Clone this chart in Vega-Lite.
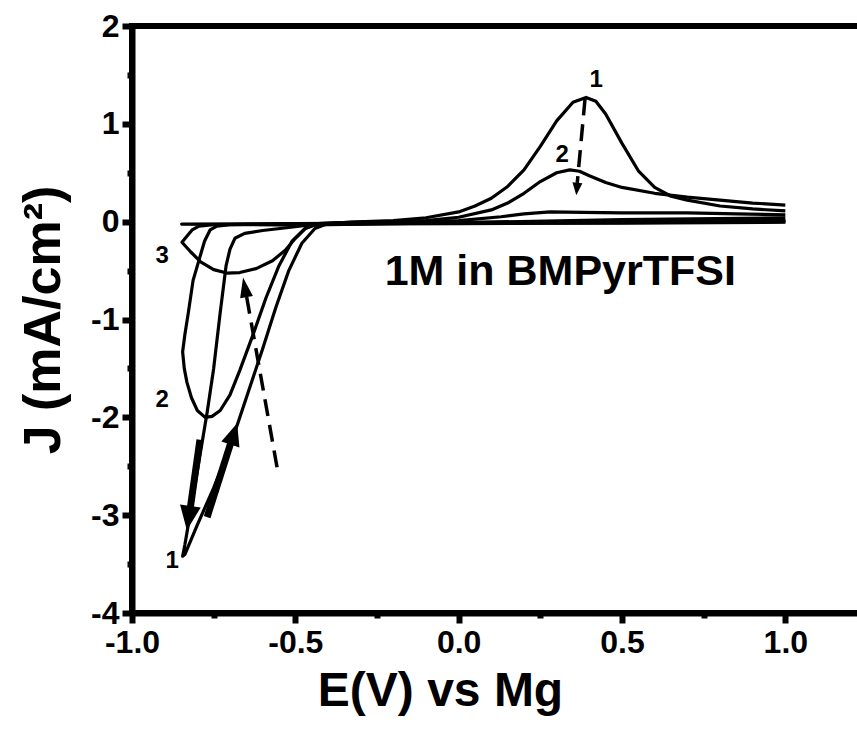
{
  "$schema": "https://vega.github.io/schema/vega-lite/v6.json",
  "autosize": "none",
  "width": 735,
  "height": 587,
  "padding": {"left": 132, "top": 26, "right": -10, "bottom": 124},
  "background": "white",
  "config": {
    "font": "Liberation Sans",
    "view": {"stroke": "black", "strokeWidth": 6},
    "axis": {
      "grid": false,
      "domainColor": "black",
      "domainWidth": 6,
      "tickColor": "black",
      "tickWidth": 6,
      "labelColor": "black",
      "labelFont": "Liberation Sans",
      "labelFontWeight": "bold",
      "labelFontSize": 32,
      "labelOverlap": false,
      "labelFlush": false,
      "labelBound": false,
      "titleColor": "black",
      "titleFont": "Liberation Sans",
      "titleFontWeight": "bold",
      "titleFontSize": 48
    }
  },
  "datasets": {
    "curves": [
      {"c": "1", "i": 0, "E": 1.0, "J": 0.01},
      {"c": "1", "i": 1, "E": 0.5, "J": 0.0},
      {"c": "1", "i": 2, "E": 0.0, "J": -0.01},
      {"c": "1", "i": 3, "E": -0.3, "J": -0.02},
      {"c": "1", "i": 4, "E": -0.45, "J": -0.03},
      {"c": "1", "i": 5, "E": -0.52, "J": -0.06},
      {"c": "1", "i": 6, "E": -0.6, "J": -0.09},
      {"c": "1", "i": 7, "E": -0.655, "J": -0.12},
      {"c": "1", "i": 8, "E": -0.685, "J": -0.17},
      {"c": "1", "i": 9, "E": -0.7, "J": -0.28},
      {"c": "1", "i": 10, "E": -0.712, "J": -0.45},
      {"c": "1", "i": 11, "E": -0.73, "J": -0.93},
      {"c": "1", "i": 12, "E": -0.75, "J": -1.5},
      {"c": "1", "i": 13, "E": -0.77, "J": -1.95},
      {"c": "1", "i": 14, "E": -0.795, "J": -2.45},
      {"c": "1", "i": 15, "E": -0.82, "J": -2.95},
      {"c": "1", "i": 16, "E": -0.838, "J": -3.3},
      {"c": "1", "i": 17, "E": -0.845, "J": -3.42},
      {"c": "1", "i": 18, "E": -0.838, "J": -3.4},
      {"c": "1", "i": 19, "E": -0.8, "J": -3.1},
      {"c": "1", "i": 20, "E": -0.75, "J": -2.72},
      {"c": "1", "i": 21, "E": -0.7, "J": -2.3},
      {"c": "1", "i": 22, "E": -0.65, "J": -1.8},
      {"c": "1", "i": 23, "E": -0.6, "J": -1.3},
      {"c": "1", "i": 24, "E": -0.56, "J": -0.88},
      {"c": "1", "i": 25, "E": -0.52, "J": -0.5},
      {"c": "1", "i": 26, "E": -0.48, "J": -0.22},
      {"c": "1", "i": 27, "E": -0.44, "J": -0.07},
      {"c": "1", "i": 28, "E": -0.4, "J": -0.02},
      {"c": "1", "i": 29, "E": -0.33, "J": -0.005},
      {"c": "1", "i": 30, "E": -0.2, "J": 0.01},
      {"c": "1", "i": 31, "E": -0.1, "J": 0.04},
      {"c": "1", "i": 32, "E": 0.0, "J": 0.1},
      {"c": "1", "i": 33, "E": 0.05, "J": 0.16},
      {"c": "1", "i": 34, "E": 0.1, "J": 0.24},
      {"c": "1", "i": 35, "E": 0.15, "J": 0.36},
      {"c": "1", "i": 36, "E": 0.2, "J": 0.53},
      {"c": "1", "i": 37, "E": 0.25, "J": 0.77},
      {"c": "1", "i": 38, "E": 0.3, "J": 1.03},
      {"c": "1", "i": 39, "E": 0.35, "J": 1.22},
      {"c": "1", "i": 40, "E": 0.39, "J": 1.27},
      {"c": "1", "i": 41, "E": 0.42, "J": 1.23},
      {"c": "1", "i": 42, "E": 0.45, "J": 1.1},
      {"c": "1", "i": 43, "E": 0.5, "J": 0.8},
      {"c": "1", "i": 44, "E": 0.55, "J": 0.52},
      {"c": "1", "i": 45, "E": 0.6, "J": 0.35},
      {"c": "1", "i": 46, "E": 0.65, "J": 0.26},
      {"c": "1", "i": 47, "E": 0.7, "J": 0.22},
      {"c": "1", "i": 48, "E": 0.8, "J": 0.16},
      {"c": "1", "i": 49, "E": 0.9, "J": 0.13},
      {"c": "1", "i": 50, "E": 1.0, "J": 0.11},

      {"c": "2", "i": 0, "E": 1.0, "J": 0.0},
      {"c": "2", "i": 1, "E": 0.5, "J": -0.01},
      {"c": "2", "i": 2, "E": 0.0, "J": -0.015},
      {"c": "2", "i": 3, "E": -0.5, "J": -0.02},
      {"c": "2", "i": 4, "E": -0.7, "J": -0.03},
      {"c": "2", "i": 5, "E": -0.74, "J": -0.045},
      {"c": "2", "i": 6, "E": -0.761, "J": -0.085},
      {"c": "2", "i": 7, "E": -0.778, "J": -0.2},
      {"c": "2", "i": 8, "E": -0.792, "J": -0.36},
      {"c": "2", "i": 9, "E": -0.813, "J": -0.6},
      {"c": "2", "i": 10, "E": -0.828, "J": -0.94},
      {"c": "2", "i": 11, "E": -0.838, "J": -1.15},
      {"c": "2", "i": 12, "E": -0.845, "J": -1.33},
      {"c": "2", "i": 13, "E": -0.84, "J": -1.5},
      {"c": "2", "i": 14, "E": -0.832, "J": -1.64},
      {"c": "2", "i": 15, "E": -0.818, "J": -1.8},
      {"c": "2", "i": 16, "E": -0.8, "J": -1.93},
      {"c": "2", "i": 17, "E": -0.776, "J": -2.0},
      {"c": "2", "i": 18, "E": -0.755, "J": -1.99},
      {"c": "2", "i": 19, "E": -0.73, "J": -1.93},
      {"c": "2", "i": 20, "E": -0.7, "J": -1.77},
      {"c": "2", "i": 21, "E": -0.67, "J": -1.52},
      {"c": "2", "i": 22, "E": -0.63, "J": -1.16},
      {"c": "2", "i": 23, "E": -0.59, "J": -0.78},
      {"c": "2", "i": 24, "E": -0.55, "J": -0.45},
      {"c": "2", "i": 25, "E": -0.51, "J": -0.2},
      {"c": "2", "i": 26, "E": -0.47, "J": -0.07},
      {"c": "2", "i": 27, "E": -0.43, "J": -0.02},
      {"c": "2", "i": 28, "E": -0.35, "J": -0.01},
      {"c": "2", "i": 29, "E": -0.2, "J": 0.0},
      {"c": "2", "i": 30, "E": -0.1, "J": 0.01},
      {"c": "2", "i": 31, "E": 0.0, "J": 0.045},
      {"c": "2", "i": 32, "E": 0.1, "J": 0.12},
      {"c": "2", "i": 33, "E": 0.15, "J": 0.19},
      {"c": "2", "i": 34, "E": 0.2, "J": 0.29},
      {"c": "2", "i": 35, "E": 0.25, "J": 0.41},
      {"c": "2", "i": 36, "E": 0.3, "J": 0.5},
      {"c": "2", "i": 37, "E": 0.34, "J": 0.53},
      {"c": "2", "i": 38, "E": 0.37, "J": 0.515},
      {"c": "2", "i": 39, "E": 0.4, "J": 0.47},
      {"c": "2", "i": 40, "E": 0.45, "J": 0.4},
      {"c": "2", "i": 41, "E": 0.5, "J": 0.35},
      {"c": "2", "i": 42, "E": 0.6, "J": 0.29},
      {"c": "2", "i": 43, "E": 0.7, "J": 0.25},
      {"c": "2", "i": 44, "E": 0.8, "J": 0.22},
      {"c": "2", "i": 45, "E": 0.9, "J": 0.19},
      {"c": "2", "i": 46, "E": 1.0, "J": 0.17},

      {"c": "3", "i": 0, "E": 1.0, "J": -0.005},
      {"c": "3", "i": 1, "E": 0.5, "J": -0.015},
      {"c": "3", "i": 2, "E": 0.0, "J": -0.02},
      {"c": "3", "i": 3, "E": -0.5, "J": -0.025},
      {"c": "3", "i": 4, "E": -0.75, "J": -0.03},
      {"c": "3", "i": 5, "E": -0.795, "J": -0.045},
      {"c": "3", "i": 6, "E": -0.816, "J": -0.085},
      {"c": "3", "i": 7, "E": -0.832, "J": -0.15},
      {"c": "3", "i": 8, "E": -0.847, "J": -0.21},
      {"c": "3", "i": 9, "E": -0.82, "J": -0.31},
      {"c": "3", "i": 10, "E": -0.79, "J": -0.41},
      {"c": "3", "i": 11, "E": -0.75, "J": -0.49},
      {"c": "3", "i": 12, "E": -0.71, "J": -0.525},
      {"c": "3", "i": 13, "E": -0.67, "J": -0.52},
      {"c": "3", "i": 14, "E": -0.62, "J": -0.48},
      {"c": "3", "i": 15, "E": -0.57, "J": -0.4},
      {"c": "3", "i": 16, "E": -0.53, "J": -0.29},
      {"c": "3", "i": 17, "E": -0.5, "J": -0.17},
      {"c": "3", "i": 18, "E": -0.47, "J": -0.07},
      {"c": "3", "i": 19, "E": -0.43, "J": -0.02},
      {"c": "3", "i": 20, "E": -0.35, "J": -0.01},
      {"c": "3", "i": 21, "E": -0.2, "J": 0.0},
      {"c": "3", "i": 22, "E": 0.0, "J": 0.01},
      {"c": "3", "i": 23, "E": 0.13, "J": 0.05},
      {"c": "3", "i": 24, "E": 0.2, "J": 0.08},
      {"c": "3", "i": 25, "E": 0.28, "J": 0.1},
      {"c": "3", "i": 26, "E": 0.38, "J": 0.095},
      {"c": "3", "i": 27, "E": 0.5, "J": 0.09},
      {"c": "3", "i": 28, "E": 0.7, "J": 0.09},
      {"c": "3", "i": 29, "E": 0.85, "J": 0.08},
      {"c": "3", "i": 30, "E": 1.0, "J": 0.07},

      {"c": "4", "i": 0, "E": 1.0, "J": 0.01},
      {"c": "4", "i": 1, "E": 0.5, "J": 0.0},
      {"c": "4", "i": 2, "E": 0.0, "J": -0.01},
      {"c": "4", "i": 3, "E": -0.5, "J": -0.02},
      {"c": "4", "i": 4, "E": -0.848, "J": -0.025},
      {"c": "4", "i": 5, "E": -0.5, "J": -0.035},
      {"c": "4", "i": 6, "E": 0.0, "J": -0.01},
      {"c": "4", "i": 7, "E": 0.5, "J": 0.02},
      {"c": "4", "i": 8, "E": 1.0, "J": 0.04}
    ],
    "shafts": [
      {"id": "A", "i": 0, "E": -0.556, "J": -2.51},
      {"id": "A", "i": 1, "E": -0.649, "J": -0.77},
      {"id": "B", "i": 0, "E": 0.387, "J": 1.26},
      {"id": "B", "i": 1, "E": 0.363, "J": 0.396},
      {"id": "C", "i": 0, "E": -0.792, "J": -2.23},
      {"id": "C", "i": 1, "E": -0.8214, "J": -2.923},
      {"id": "D", "i": 0, "E": -0.77, "J": -3.02},
      {"id": "D", "i": 1, "E": -0.698, "J": -2.265}
    ],
    "tips": [
      {"id": "A", "E": -0.66, "J": -0.57},
      {"id": "B", "E": 0.36, "J": 0.27},
      {"id": "C", "E": -0.832, "J": -3.155},
      {"id": "D", "E": -0.678, "J": -2.06}
    ],
    "labels": [
      {"t": "3", "E": -0.908, "J": -0.35},
      {"t": "2", "E": -0.908, "J": -1.82},
      {"t": "1", "E": -0.877, "J": -3.47},
      {"t": "1", "E": 0.421, "J": 1.45},
      {"t": "2", "E": 0.317, "J": 0.68}
    ],
    "note": [
      {"t": "1M in BMPyrTFSI", "E": 0.311, "J": -0.515}
    ]
  },
  "layer": [
    {
      "data": {"name": "curves"},
      "mark": {"type": "line", "color": "black", "strokeWidth": 3.2, "strokeJoin": "round"},
      "encoding": {
        "x": {
          "field": "E", "type": "quantitative",
          "scale": {"domain": [-1, 1.25], "nice": false, "zero": false},
          "axis": {
            "values": [-1, -0.75, -0.5, -0.25, 0, 0.25, 0.5, 0.75, 1],
            "title": "E(V) vs Mg",
            "titleX": 308,
            "titleFontSize": 48,
            "domainWidth": 6,
            "domainColor": "black",
            "tickWidth": 6,
            "tickColor": "black",
            "labelExpr": "abs((datum.value*4) % 2) == 1 ? '' : replace(format(datum.value, '.1f'), '\u2212', '-')",
            "tickSize": {"condition": {"test": "abs((datum.value*4) % 2) == 1", "value": 5}, "value": 10},
            "labelPadding": 4,
            "titlePadding": 9
          }
        },
        "y": {
          "field": "J", "type": "quantitative",
          "scale": {"domain": [-4, 2], "nice": false, "zero": false},
          "axis": {
            "values": [-4, -3.5, -3, -2.5, -2, -1.5, -1, -0.5, 0, 0.5, 1, 1.5, 2],
            "title": "J (mA/cm²)",
            "titleFontSize": 52,
            "domainWidth": 6,
            "domainColor": "black",
            "tickWidth": 6,
            "tickColor": "black",
            "labelExpr": "datum.value % 1 != 0 ? '' : replace(format(datum.value, 'd'), '\u2212', '-')",
            "tickSize": {"condition": {"test": "datum.value % 1 != 0", "value": 5}, "value": 10},
            "labelPadding": 3,
            "titlePadding": 20
          }
        },
        "detail": {"field": "c"},
        "order": {"field": "i", "type": "quantitative"}
      }
    },
    {
      "data": {"name": "shafts"},
      "transform": [{"filter": "datum.id == 'A' || datum.id == 'B'"}],
      "mark": {"type": "line", "color": "black", "strokeWidth": 3.5, "strokeDash": [17, 9], "strokeCap": "butt"},
      "encoding": {
        "x": {"field": "E", "type": "quantitative", "scale": {"domain": [-1, 1.25], "nice": false, "zero": false}},
        "y": {"field": "J", "type": "quantitative", "scale": {"domain": [-4, 2], "nice": false, "zero": false}},
        "detail": {"field": "id"},
        "order": {"field": "i", "type": "quantitative"}
      }
    },
    {
      "data": {"name": "shafts"},
      "transform": [{"filter": "datum.id == 'C' || datum.id == 'D'"}],
      "mark": {"type": "line", "color": "black", "strokeWidth": 7, "strokeCap": "butt"},
      "encoding": {
        "x": {"field": "E", "type": "quantitative", "scale": {"domain": [-1, 1.25], "nice": false, "zero": false}},
        "y": {"field": "J", "type": "quantitative", "scale": {"domain": [-4, 2], "nice": false, "zero": false}},
        "detail": {"field": "id"},
        "order": {"field": "i", "type": "quantitative"}
      }
    },
    {
      "data": {"name": "tips"},
      "transform": [{"filter": "datum.id == 'A'"}],
      "mark": {"type": "point", "shape": "M0,0L0.65,2L-0.65,2Z", "size": 400, "angle": 350, "filled": true, "opacity": 1, "color": "black", "strokeWidth": 0},
      "encoding": {
        "x": {"field": "E", "type": "quantitative", "scale": {"domain": [-1, 1.25], "nice": false, "zero": false}},
        "y": {"field": "J", "type": "quantitative", "scale": {"domain": [-4, 2], "nice": false, "zero": false}}
      }
    },
    {
      "data": {"name": "tips"},
      "transform": [{"filter": "datum.id == 'B'"}],
      "mark": {"type": "point", "shape": "M0,0L0.8,2L-0.8,2Z", "size": 156, "angle": 185.4, "filled": true, "opacity": 1, "color": "black", "strokeWidth": 0},
      "encoding": {
        "x": {"field": "E", "type": "quantitative", "scale": {"domain": [-1, 1.25], "nice": false, "zero": false}},
        "y": {"field": "J", "type": "quantitative", "scale": {"domain": [-4, 2], "nice": false, "zero": false}}
      }
    },
    {
      "data": {"name": "tips"},
      "transform": [{"filter": "datum.id == 'C'"}],
      "mark": {"type": "point", "shape": "M0,0L0.85,2L-0.85,2Z", "size": 600, "angle": 188.2, "filled": true, "opacity": 1, "color": "black", "strokeWidth": 0},
      "encoding": {
        "x": {"field": "E", "type": "quantitative", "scale": {"domain": [-1, 1.25], "nice": false, "zero": false}},
        "y": {"field": "J", "type": "quantitative", "scale": {"domain": [-4, 2], "nice": false, "zero": false}}
      }
    },
    {
      "data": {"name": "tips"},
      "transform": [{"filter": "datum.id == 'D'"}],
      "mark": {"type": "point", "shape": "M0,0L0.85,2L-0.85,2Z", "size": 500, "angle": 17.7, "filled": true, "opacity": 1, "color": "black", "strokeWidth": 0},
      "encoding": {
        "x": {"field": "E", "type": "quantitative", "scale": {"domain": [-1, 1.25], "nice": false, "zero": false}},
        "y": {"field": "J", "type": "quantitative", "scale": {"domain": [-4, 2], "nice": false, "zero": false}}
      }
    },
    {
      "data": {"name": "labels"},
      "mark": {"type": "text", "font": "Liberation Sans", "fontWeight": "bold", "fontSize": 24, "color": "black", "align": "center", "baseline": "middle"},
      "encoding": {
        "x": {"field": "E", "type": "quantitative", "scale": {"domain": [-1, 1.25], "nice": false, "zero": false}},
        "y": {"field": "J", "type": "quantitative", "scale": {"domain": [-4, 2], "nice": false, "zero": false}},
        "text": {"field": "t"}
      }
    },
    {
      "data": {"name": "note"},
      "mark": {"type": "text", "font": "Liberation Sans", "fontWeight": "bold", "fontSize": 43, "color": "black", "align": "center", "baseline": "middle"},
      "encoding": {
        "x": {"field": "E", "type": "quantitative", "scale": {"domain": [-1, 1.25], "nice": false, "zero": false}},
        "y": {"field": "J", "type": "quantitative", "scale": {"domain": [-4, 2], "nice": false, "zero": false}},
        "text": {"field": "t"}
      }
    }
  ]
}
